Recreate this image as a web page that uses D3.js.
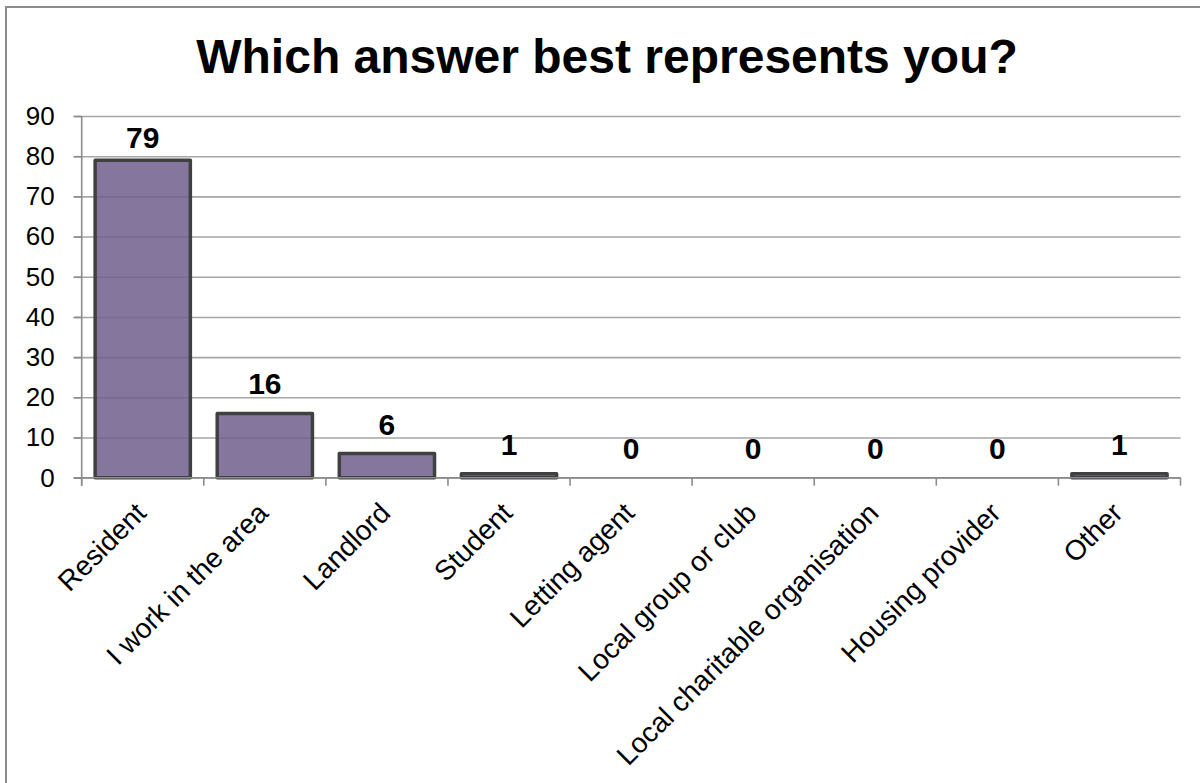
<!DOCTYPE html>
<html>
<head>
<meta charset="utf-8">
<script src="https://cdn.jsdelivr.net/npm/d3@7"></script>
<style>
  html, body { margin: 0; padding: 0; background: #fff; }
  svg { display: block; font-family: "Liberation Sans", Arial, sans-serif; }
</style>
</head>
<body>
<svg id="chart" width="1200" height="783"></svg>
<script>
const title = "Which answer best represents you?";
const categories = ["Resident", "I work in the area", "Landlord", "Student", "Letting agent",
  "Local group or club", "Local charitable organisation", "Housing provider", "Other"];
const values = [79, 16, 6, 1, 0, 0, 0, 0, 1];
const yTicks = [0, 10, 20, 30, 40, 50, 60, 70, 80, 90];

const svg = d3.select("#chart");
const W = 1200, H = 783;
const m = { left: 81.7, right: 1180.5, top: 116, bottom: 477.7 };

// outer chart border
svg.append("rect")
  .attr("x", 6).attr("y", 7).attr("width", W + 10).attr("height", H + 10)
  .attr("fill", "#fff").attr("stroke", "#8c8c8c").attr("stroke-width", 2);

// title
svg.append("text")
  .attr("x", 607).attr("y", 73)
  .attr("text-anchor", "middle")
  .attr("font-size", 48).attr("font-weight", "bold").attr("fill", "#000")
  .text(title);

const x = d3.scaleBand().domain(categories).range([m.left, m.right])
  .paddingInner(0.22).paddingOuter(0.11);
const y = d3.scaleLinear().domain([0, 90]).range([m.bottom, m.top]);

// gridlines
const grid = svg.append("g").attr("transform", `translate(${m.left},0)`)
  .call(d3.axisLeft(y).tickValues(yTicks).tickSize(-(m.right - m.left)).tickFormat(""));
grid.select(".domain").remove();
grid.selectAll(".tick line").attr("stroke", "#a6a6a6").attr("stroke-width", 1.6).attr("x1", -8);

// bars
svg.append("g").selectAll("rect")
  .data(values.map((v, i) => ({ c: categories[i], v })).filter(d => d.v > 0))
  .join("rect")
  .attr("x", d => x(d.c))
  .attr("y", d => y(d.v))
  .attr("width", x.bandwidth())
  .attr("height", d => y(0) - y(d.v))
  .attr("fill", "#705e8d").attr("fill-opacity", 0.85)
  .attr("stroke", "#404040").attr("stroke-width", 3.5)
  .attr("stroke-linejoin", "round");

// y axis
const yAxis = svg.append("g").attr("transform", `translate(${m.left},0)`)
  .call(d3.axisLeft(y).tickValues(yTicks).tickSize(8).tickPadding(19));
yAxis.attr("font-size", 26).attr("font-family", "'Liberation Sans', Arial, sans-serif");
yAxis.select(".domain").attr("stroke", "#8c8c8c").attr("stroke-width", 1.6)
  .attr("d", `M0,${m.top}V${m.bottom + 8}`);
yAxis.selectAll(".tick line").attr("stroke", "#8c8c8c").attr("stroke-width", 1.6);
yAxis.selectAll(".tick text").attr("font-size", 26).attr("fill", "#000");

// x axis line + boundary ticks
const xg = svg.append("g");
xg.append("line").attr("x1", m.left - 8).attr("x2", m.right)
  .attr("y1", y(0)).attr("y2", y(0))
  .attr("stroke", "#8c8c8c").attr("stroke-width", 1.6);
const bounds = categories.map(c => x(c) - x.step() * x.paddingOuter()).concat([m.right]);
xg.selectAll("line.b").data(bounds).join("line").attr("class", "b")
  .attr("x1", d => d).attr("x2", d => d)
  .attr("y1", y(0)).attr("y2", y(0) + 8)
  .attr("stroke", "#8c8c8c").attr("stroke-width", 1.6);

// category labels
xg.selectAll("text.cat").data(categories).join("text").attr("class", "cat")
  .attr("transform", c => `translate(${x(c) + x.bandwidth() / 2 + 5},${y(0) + 37}) rotate(-45)`)
  .attr("text-anchor", "end")
  .attr("font-size", 28).attr("fill", "#000")
  .text(c => c);

// data labels
svg.append("g").selectAll("text")
  .data(values.map((v, i) => ({ c: categories[i], v })))
  .join("text")
  .attr("x", d => x(d.c) + x.bandwidth() / 2)
  .attr("y", d => Math.max(y(d.v) - 19, m.top + 32))
  .attr("text-anchor", "middle")
  .attr("font-size", 30).attr("font-weight", "bold").attr("fill", "#000")
  .text(d => d.v);
</script>
</body>
</html>
